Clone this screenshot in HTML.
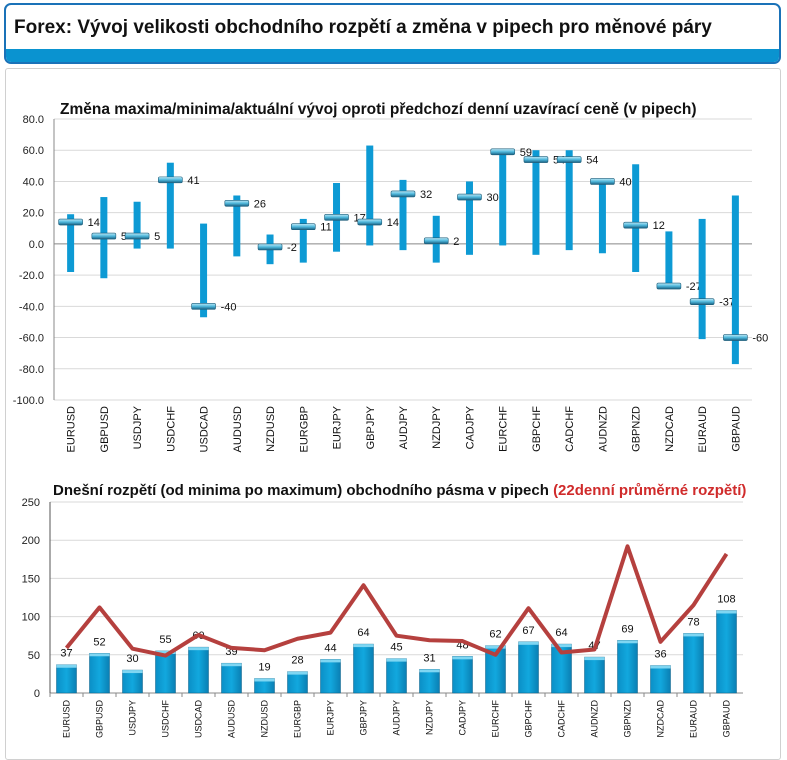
<!DOCTYPE html>
<html><head><meta charset="utf-8"><style>
body{margin:0;width:787px;height:746px;background:#fff;font-family:"Liberation Sans","DejaVu Sans",sans-serif;overflow:hidden;position:relative}
#hdr{position:absolute;left:4px;top:3px;width:773px;height:57px;border:2px solid #1a72b8;border-radius:7px;overflow:hidden;background:#fff}
#hdr .band{position:absolute;left:0;right:0;bottom:0;height:13px;background:#0a93d0}
#hdr .t{position:absolute;left:8px;top:12px;font-size:19px;font-weight:bold;color:#111}
#panel{position:absolute;left:5px;top:68px;width:774px;height:690px;border:1px solid #d0d0d0;border-radius:3px}
svg{position:absolute;left:0;top:0}
</style></head><body>
<div id="hdr"><div class="t">Forex: Vývoj velikosti obchodního rozpětí a změna v pipech pro měnové páry</div><div class="band"></div></div>
<div id="panel"></div>
<svg id="s" width="787" height="746">
<defs>
<linearGradient id="cap" x1="0" y1="0" x2="0" y2="1"><stop offset="0" stop-color="#bfe9f7"/><stop offset="0.5" stop-color="#4fb8dc"/><stop offset="1" stop-color="#1a5f80"/></linearGradient>
<linearGradient id="bar" x1="0" y1="0" x2="1" y2="0"><stop offset="0" stop-color="#0b8fc6"/><stop offset="0.5" stop-color="#12a8de"/><stop offset="1" stop-color="#0a7fb3"/></linearGradient>
</defs>
<text x="60" y="114" font-size="15.5" font-weight="bold" fill="#111">Změna maxima/minima/aktuální vývoj oproti předchozí denní uzavírací ceně (v pipech)</text>
<text x="53" y="495" font-size="15" font-weight="bold" fill="#111">Dnešní rozpětí (od minima po maximum) obchodního pásma v pipech <tspan fill="#d02b2b">(22denní průměrné rozpětí)</tspan></text>
</svg>
<script>
const pairs=["EURUSD","GBPUSD","USDJPY","USDCHF","USDCAD","AUDUSD","NZDUSD","EURGBP","EURJPY","GBPJPY","AUDJPY","NZDJPY","CADJPY","EURCHF","GBPCHF","CADCHF","AUDNZD","GBPNZD","NZDCAD","EURAUD","GBPAUD"];
const highs=[19,30,27,52,13,31,6,16,39,63,41,18,40,60,60,60,41,51,8,16,31];
const lows=[-18,-22,-3,-3,-47,-8,-13,-12,-5,-1,-4,-12,-7,-1,-7,-4,-6,-18,-27,-61,-77];
const closes=[14,5,5,41,-40,26,-2,11,17,14,32,2,30,59,54,54,40,12,-27,-37,-60];
const topTicks=[80,60,40,20,0,-20,-40,-60,-80,-100];
const ranges=[37,52,30,55,60,39,19,28,44,64,45,31,48,62,67,64,47,69,36,78,108];
const avg22=[59,112,58,49,76,59,56,71,79,141,75,69,68,50,111,53,57,192,67,115,182];
const botTicks=[0,50,100,150,200,250];

const s=document.getElementById('s');const NS="http://www.w3.org/2000/svg";
function el(t,a,txt){const e=document.createElementNS(NS,t);for(const k in a)e.setAttribute(k,a[k]);if(txt!==undefined)e.textContent=txt;s.appendChild(e);return e;}
const T={l:54,r:752,t:119,b:400,min:-100,max:80};
const ty=v=>T.b-(v-T.min)/(T.max-T.min)*(T.b-T.t);
const tw=(T.r-T.l)/pairs.length;const tx=i=>T.l+tw*(i+0.5);
topTicks.forEach(v=>{
 let g=el('line',{x1:T.l,x2:T.r,y1:ty(v),y2:ty(v),stroke:v===0?'#888':'#d9d9d9','stroke-width':1});
 
 let t=el('text',{x:T.l-10,y:ty(v)+4,'font-size':11,'text-anchor':'end',fill:'#222'},v.toFixed(1));
 
});
let ax=el('line',{x1:T.l,x2:T.l,y1:T.t,y2:T.b,stroke:'#888'});

pairs.forEach((p,i)=>{
 const x=tx(i);
 let r=el('rect',{x:x-3.5,y:ty(highs[i]),width:7,height:ty(lows[i])-ty(highs[i]),fill:'#0d9ad4'});
 
 let c=el('rect',{x:x-12,y:ty(closes[i])-3,width:24,height:6,rx:1.5,fill:'url(#cap)',stroke:'#1d5d7a','stroke-width':0.6});
 
 let l=el('text',{x:x+17,y:ty(closes[i])+4,'font-size':11,fill:'#111'},closes[i]);
 
 let xl=el('text',{x:0,y:0,'font-size':11,fill:'#111','text-anchor':'end',transform:`translate(${x+4},${T.b+6}) rotate(-90)`},p);
 
});
const B={l:50,r:743,t:502,b:693,max:250};
const by=v=>B.b-v/B.max*(B.b-B.t);
const bw=(B.r-B.l)/pairs.length;const bx=i=>B.l+bw*(i+0.5);
botTicks.forEach(v=>{
 let g=el('line',{x1:B.l,x2:B.r,y1:by(v),y2:by(v),stroke:v===0?'#888':'#d9d9d9'});
 
 let t=el('text',{x:B.l-10,y:by(v)+4,'font-size':11,'text-anchor':'end',fill:'#222'},v);
 
});
let ax2=el('line',{x1:B.l,x2:B.l,y1:B.t,y2:B.b,stroke:'#555'});

pairs.forEach((p,i)=>{
 const x=bx(i);
 let r=el('rect',{x:x-10,y:by(ranges[i]),width:20,height:B.b-by(ranges[i]),fill:'url(#bar)',stroke:'#0a5f85','stroke-width':0.5});
 
 let cp=el('rect',{x:x-10,y:by(ranges[i]),width:20,height:3,fill:'#7fd6f2'});
 
 let l=el('text',{x:x,y:by(ranges[i])-8,'font-size':11,'text-anchor':'middle',fill:'#111'},ranges[i]);
 
 let xl=el('text',{x:0,y:0,'font-size':9,fill:'#111','text-anchor':'end',transform:`translate(${x+3},${B.b+7}) rotate(-90)`},p);
 
 let tk=el('line',{x1:B.l+bw*i,x2:B.l+bw*i,y1:B.b,y2:B.b+4,stroke:'#888'});
 
});
let pl=el('polyline',{points:avg22.map((v,i)=>bx(i)+','+by(v)).join(' '),fill:'none',stroke:'#b5403e','stroke-width':4,'stroke-linejoin':'round'});

</script>
</body></html>
